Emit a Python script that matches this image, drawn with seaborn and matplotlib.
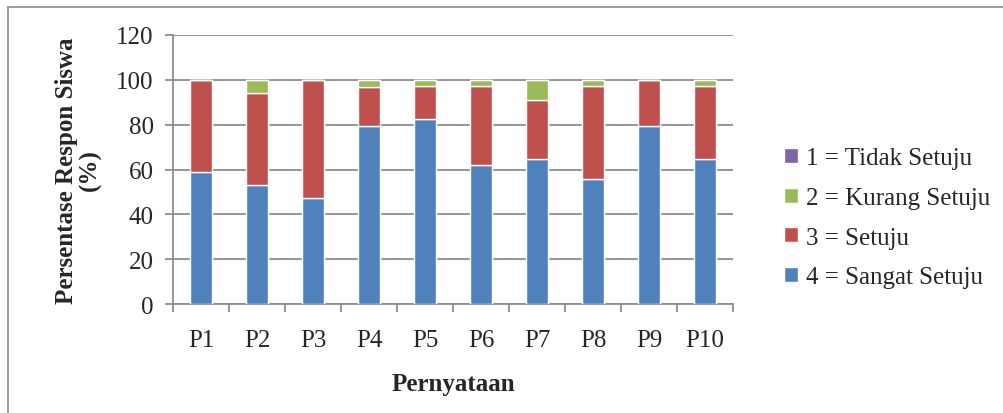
import matplotlib.pyplot as plt
import numpy as np
import pandas as pd
import seaborn as sns
from matplotlib.patches import Patch

# data (persen, 34 siswa)
pernyataan = ['P1', 'P2', 'P3', 'P4', 'P5', 'P6', 'P7', 'P8', 'P9', 'P10']
sangat_setuju = [58.8, 52.9, 47.1, 79.4, 82.4, 61.8, 64.7, 55.9, 79.4, 64.7]
setuju = [41.2, 41.2, 52.9, 17.6, 14.7, 35.3, 26.5, 41.2, 20.6, 32.4]
kurang_setuju = [0, 5.9, 0, 2.9, 2.9, 2.9, 8.8, 2.9, 0, 2.9]
tidak_setuju = [0, 0, 0, 0, 0, 0, 0, 0, 0, 0]

labels = ['1 = Tidak Setuju', '2 = Kurang Setuju', '3 = Setuju', '4 = Sangat Setuju']
colors = ['#8064A2', '#9BBB59', '#C0504D', '#4F81BD']

sns.set_style('white')
plt.rcParams['font.family'] = ['Liberation Serif', 'DejaVu Serif']

df = pd.DataFrame({'P': pernyataan, 'ss': sangat_setuju, 's': setuju,
                   'ks': kurang_setuju, 'ts': tidak_setuju})

fig = plt.figure(figsize=(10.04, 4.14), dpi=100)
ax = fig.add_axes([173/1004, 1 - 305/414, (733-173)/1004, (305-36)/414])

bottom = np.zeros(len(pernyataan))
for col, c in zip(['ss', 's', 'ks', 'ts'], colors[::-1]):
    sns.barplot(data=df, x='P', y=col, color=c, bottom=bottom, width=0.4,
                saturation=1, ax=ax, zorder=3)
    bottom = bottom + df[col].values

ax.set_ylim(0, 120)
ax.set_xlim(-0.5, 9.5)
ax.set_yticks(range(0, 121, 20))
ax.grid(axis='y', color='#8c8c8c', linewidth=1.3, zorder=0)
for s in ['top', 'right']:
    ax.spines[s].set_visible(False)
for s in ['left', 'bottom']:
    ax.spines[s].set_color('#8c8c8c')
    ax.spines[s].set_linewidth(1.3)
ax.set_xticks(np.arange(-0.5, 10, 1), minor=True)
ax.tick_params(axis='x', which='major', length=0, labelsize=18, pad=18)
ax.tick_params(axis='x', which='minor', length=6, color='#8c8c8c', width=1.3, direction='out')
ax.tick_params(axis='y', length=6, color='#8c8c8c', width=1.3, labelsize=18, pad=8)
ax.tick_params(left=True, bottom=True, which='both')
ax.set_xlabel('Pernyataan', fontsize=18, fontweight='bold', labelpad=15)
ax.set_ylabel('Persentase Respon Siswa\n(%)', fontsize=18, fontweight='bold', labelpad=10,
              linespacing=1.05)

handles = [Patch(facecolor=c, label=l) for c, l in zip(colors, labels)]
fig.legend(handles=handles, loc='upper left', bbox_to_anchor=(762/1004, 1 - 126/414),
           frameon=False, fontsize=18, handlelength=0.55, handleheight=0.55,
           handletextpad=0.3, labelspacing=0.7)

# garis tepi
fig.add_artist(plt.Line2D([8/1004, 8/1004], [0, 1 - 8/414], color='#8c8c8c', lw=1.2))
fig.add_artist(plt.Line2D([8/1004, 1], [1 - 8/414, 1 - 8/414], color='#8c8c8c', lw=1.2))

plt.savefig('out.png', dpi=100)
